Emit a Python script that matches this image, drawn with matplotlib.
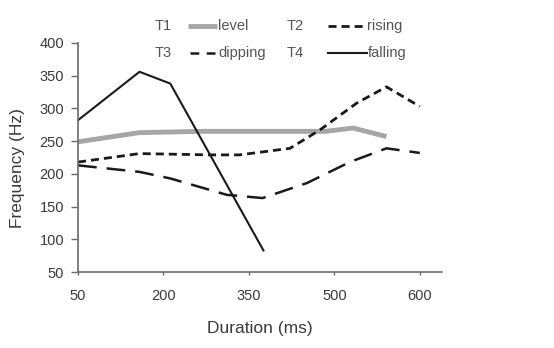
import matplotlib.pyplot as plt
from matplotlib.lines import Line2D

plt.rcParams['font.family'] = ['Liberation Sans', 'DejaVu Sans']

## data (x in tick-slot units: 0 -> "50", 1 -> "200", ... 4 -> "600")
x_labels = ['50', '200', '350', '500', '600']
y_ticks = [50, 100, 150, 200, 250, 300, 350, 400]

level_x = [0, 0.72, 1.45, 2.17, 2.9, 3.22, 3.61]
level_y = [249, 263, 265, 265, 265, 270, 257]

rising_x = [0, 0.72, 1.54, 1.89, 2.48, 2.83, 3.26, 3.61, 4.0]
rising_y = [218, 231, 229, 229, 239, 267, 308, 333, 303]

dipping_x = [0, 0.72, 1.08, 1.74, 2.16, 2.68, 3.18, 3.61, 4.0]
dipping_y = [213, 203, 193, 168, 163, 186, 218, 239, 232]

falling_x = [0, 0.72, 1.08, 2.17]
falling_y = [282, 356, 338, 83]

txt = '#3a3a3a'
level_style = dict(color='#a6a6a6', lw=3.5, solid_capstyle='butt')
rising_style = dict(color='#1a1a1a', lw=2.0, dashes=(2.9, 1.8))
dipping_style = dict(color='#1a1a1a', lw=1.8, dashes=(7.5, 4.0))
falling_style = dict(color='#1a1a1a', lw=1.5)

fig = plt.figure(figsize=(5.54, 3.48), dpi=100)
ax = fig.add_axes([78 / 554, 1 - 272 / 348, (442 - 78) / 554, (272 - 43) / 348])

ax.plot(level_x, level_y, **level_style)
ax.plot(rising_x, rising_y, **rising_style)
ax.plot(dipping_x, dipping_y, **dipping_style)
ax.plot(falling_x, falling_y, **falling_style)

ax.set_xlim(0, 4.26)
ax.set_ylim(50, 400)
ax.set_xticks(range(len(x_labels)))
ax.set_xticklabels(x_labels)
ax.set_yticks(y_ticks)

for s in ['top', 'right']:
    ax.spines[s].set_visible(False)
for s in ['left', 'bottom']:
    ax.spines[s].set_color('#6a6a6a')
    ax.spines[s].set_linewidth(1.2)
ax.tick_params(axis='y', length=5, width=1, color='#6a6a6a', pad=5, labelsize=10.5, labelcolor=txt)
ax.tick_params(axis='x', length=2.5, width=1, color='#6a6a6a', pad=10, labelsize=10.5, labelcolor=txt)

ax.set_xlabel('Duration (ms)', fontsize=12.5, color=txt, labelpad=13)
ax.set_ylabel('Frequency (Hz)', fontsize=12.5, color=txt)
ax.yaxis.set_label_coords(-0.145, 0.455)

## legend drawn by hand: tag, line sample, name (pixel positions)
legend = [
    ('T1', 'level', 155, 188, 217, 218, 26, level_style),
    ('T2', 'rising', 287, 328, 365, 367, 26, rising_style),
    ('T3', 'dipping', 155, 190, 217, 218, 53, dict(dipping_style, dashes=(3.5, 3.0))),
    ('T4', 'falling', 287, 328, 367, 368, 53, falling_style),
]
for tag, name, tx, x0, x1, nx, py, style in legend:
    fy = 1 - py / 348
    fig.text(tx / 554, fy, tag, fontsize=10.5, color='#555555', va='center')
    fig.add_artist(Line2D([x0 / 554, x1 / 554], [fy, fy], **style))
    fig.text(nx / 554, fy, name, fontsize=10.5, color='#555555', va='center')

fig.savefig('out.png', dpi=100)
